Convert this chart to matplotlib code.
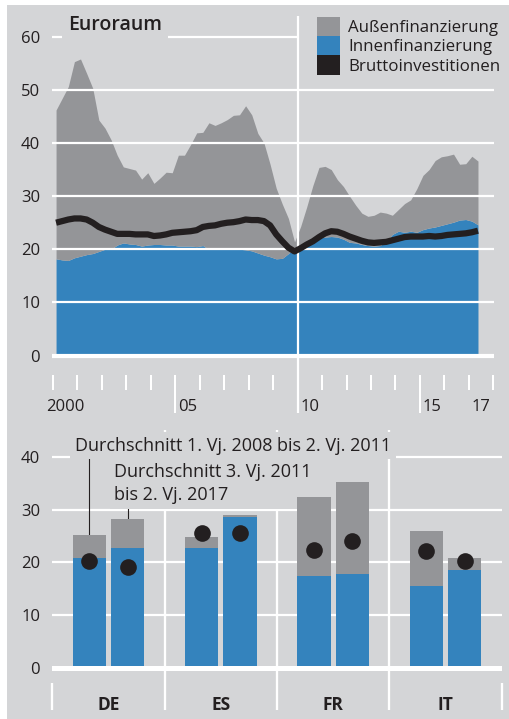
import matplotlib
matplotlib.use('Agg')
import matplotlib.pyplot as plt
from matplotlib.patches import Patch, Rectangle
import numpy as np

plt.rcParams['font.family'] = ['Open Sans', 'DejaVu Sans']

# ---------------- data ----------------
# Euroraum, quarterly 2000 Q1 - 2017 Q2 (% )
total = [46.2, 48.4, 50.6, 55.3, 55.8, 53.1, 50.3, 44.3, 42.8, 40.6,
         37.7, 35.5, 35.2, 34.9, 33.2, 34.4, 32.4, 33.4, 34.5, 34.4,
         37.7, 37.7, 39.7, 41.9, 42.0, 43.8, 43.3, 43.8, 44.4, 45.2,
         45.3, 47.0, 45.3, 41.8, 40.0, 36.0, 31.5, 28.5, 25.8, 21.4,
         24.3, 28.0, 32.0, 35.4, 35.6, 35.0, 33.1, 31.8, 30.0, 28.3,
         26.8, 26.2, 26.4, 27.0, 26.8, 26.4, 27.5, 28.6, 29.3, 31.4,
         33.9, 35.0, 36.7, 37.4, 37.6, 37.9, 36.0, 36.1, 37.5, 36.6]
innen = [18.2, 18.0, 17.9, 18.4, 18.7, 19.0, 19.2, 19.6, 20.0, 20.0,
         20.8, 21.2, 21.0, 20.9, 20.6, 20.8, 20.9, 20.9, 20.8, 20.8,
         20.6, 20.6, 20.6, 20.5, 20.7, 20.0, 20.0, 20.0, 20.0, 20.0,
         20.0, 19.9, 19.7, 19.3, 18.9, 18.6, 18.2, 18.3, 19.2, 20.3,
         20.7, 21.2, 21.7, 22.1, 22.3, 22.4, 22.3, 21.9, 21.3, 21.2,
         20.9, 20.7, 20.6, 20.7, 21.5, 22.8, 23.4, 23.2, 23.4, 23.2,
         23.7, 24.0, 24.2, 24.5, 24.8, 25.1, 25.5, 25.6, 25.3, 24.6]
brutto = [25.0, 25.3, 25.6, 25.8, 25.8, 25.6, 25.0, 24.2, 23.7, 23.3,
          22.9, 22.9, 22.9, 22.8, 22.8, 22.8, 22.5, 22.6, 22.8, 23.1,
          23.2, 23.3, 23.4, 23.6, 24.2, 24.4, 24.5, 24.8, 25.0, 25.1,
          25.3, 25.6, 25.5, 25.5, 25.3, 24.5, 22.8, 21.5, 20.3, 19.6,
          20.2, 20.9, 21.5, 22.3, 23.0, 23.4, 23.3, 22.9, 22.4, 22.0,
          21.6, 21.3, 21.2, 21.3, 21.4, 21.7, 22.0, 22.3, 22.4, 22.4,
          22.4, 22.5, 22.4, 22.5, 22.7, 22.8, 22.9, 23.0, 23.2, 23.5]
start_year = 2000
year_labels = ['2000', '05', '10', '15', '17']
year_label_pos = [2000, 2005, 2010, 2015, 2017]
legend_labels = ['Außenfinanzierung', 'Innenfinanzierung', 'Bruttoinvestitionen']

# Countries: period 1 = 1. Vj. 2008 bis 2. Vj. 2011, period 2 = 3. Vj. 2011 bis 2. Vj. 2017
countries = ['DE', 'ES', 'FR', 'IT']
innen_p1 = [20.8, 22.8, 17.5, 15.5]
total_p1 = [25.2, 24.9, 32.3, 26.0]
brutto_p1 = [20.2, 25.6, 22.4, 22.1]
innen_p2 = [22.8, 28.6, 17.9, 18.6]
total_p2 = [28.3, 28.9, 35.3, 20.9]
brutto_p2 = [19.1, 25.6, 24.0, 20.2]
label_p1 = 'Durchschnitt 1. Vj. 2008 bis 2. Vj. 2011'
label_p2 = 'Durchschnitt 3. Vj. 2011\nbis 2. Vj. 2017'

# ---------------- style ----------------
BG = '#d4d5d7'
GRAY = '#949598'
BLUE = '#3483bd'
BLACK = '#231f20'
TXT = '#231f20'
W = 510.0
H = 719.0

fig = plt.figure(figsize=(5.1, 7.19), dpi=100, facecolor='white')
fig.patches.append(Rectangle((7 / W, 0), 1 - 7 / W, 1 - 5 / H, transform=fig.transFigure,
                             facecolor=BG, edgecolor='none', zorder=-10))

# ---------------- top panel ----------------
ax = fig.add_axes([52 / W, 1 - 375 / H, 442 / W, (375 - 15.4) / H])
ax.set_facecolor('none')
x0, x1 = 1999.959, 2018.03
ax.set_xlim(x0, x1)
ax.set_ylim(-3.65, 64)
for s in ax.spines.values():
    s.set_visible(False)

xq = start_year + (np.arange(len(total)) + 0.5) / 4.0
ax.fill_between(xq, 0, innen, color=BLUE, lw=0, zorder=2)
ax.fill_between(xq, innen, total, color=GRAY, lw=0, zorder=2)
for v in [10, 20, 30, 40, 50]:
    ax.axhline(v, color='white', lw=1.6, zorder=3)
ax.axhline(0, color='white', lw=3.0, zorder=3)
ax.hlines(60, x0, 2010, color='white', lw=1.6, zorder=3)
ax.vlines(2010, -10.8, 63.8, color='white', lw=1.6, zorder=3.5, clip_on=False)
ax.plot(xq, brutto, color=BLACK, lw=4.5, zorder=4, solid_joinstyle='round',
        solid_capstyle='butt')

ax.set_yticks(range(0, 61, 10))
ax.tick_params(axis='y', length=0, pad=8.6, labelsize=12, labelcolor=TXT)
ax.set_xticks(range(2000, 2019))
ax.set_xticklabels([])
ax.tick_params(axis='x', which='major', length=10.8, width=1.44, color='white',
               direction='out')
ax.set_xticks([p + 0.5 for p in year_label_pos], minor=True)
ax.set_xticklabels(year_labels, minor=True)
ax.tick_params(axis='x', which='minor', length=0, pad=17.5, labelsize=12, labelcolor=TXT)
ax.vlines([2005, 2015], -10.8, -3.65, color='white', lw=1.44, clip_on=False)

ax.text(2000.613, 62.2, 'Euroraum', fontsize=14, fontweight='semibold', color=TXT,
        ha='left', va='center', zorder=5,
        bbox=dict(boxstyle='square,pad=0.3', fc=BG, ec='none'))

handles = [Patch(facecolor=GRAY, edgecolor='none'),
           Patch(facecolor=BLUE, edgecolor='none'),
           Patch(facecolor=BLACK, edgecolor='none')]
leg = ax.legend(handles, legend_labels, loc='upper left',
                bbox_to_anchor=(316.7 / W, 1 - 16.7 / H), bbox_transform=fig.transFigure,
                frameon=False, borderpad=0, borderaxespad=0, labelspacing=0,
                handlelength=1.36, handleheight=1.38, handletextpad=0.48, fontsize=12.2)
for t in leg.get_texts():
    t.set_color(TXT)

# ---------------- bottom panel ----------------
bx = fig.add_axes([52.3 / W, 1 - 683 / H, 449.4 / W, (683 - 430.25) / H])
bx.set_facecolor('none')
bx.set_xlim(-0.5, 3.5)
bx.set_ylim(-2.8, 45)
for s in bx.spines.values():
    s.set_visible(False)

g = np.arange(len(countries))
off = 0.17
bw = 0.298
ip1 = np.array(innen_p1); tp1 = np.array(total_p1)
ip2 = np.array(innen_p2); tp2 = np.array(total_p2)
bx.bar(g - off, ip1, bw, color=BLUE, zorder=2, lw=0)
bx.bar(g - off, tp1 - ip1, bw, bottom=ip1, color=GRAY, zorder=2, lw=0)
bx.bar(g + off, ip2, bw, color=BLUE, zorder=2, lw=0)
bx.bar(g + off, tp2 - ip2, bw, bottom=ip2, color=GRAY, zorder=2, lw=0)
bx.plot(g - off, brutto_p1, 'o', ms=12, color=BLACK, mec='none', zorder=4)
bx.plot(g + off, brutto_p2, 'o', ms=12, color=BLACK, mec='none', zorder=4)

for v in [10, 20, 30, 40]:
    bx.axhline(v, color='white', lw=1.6, zorder=1)
bx.axhline(0, color='white', lw=3.6, zorder=3)
bx.vlines([0.5, 1.5, 2.5], -2.8, 45, color='white', lw=1.65, zorder=1)

bx.set_yticks(range(0, 41, 10))
bx.tick_params(axis='y', length=0, pad=8.8, labelsize=12, labelcolor=TXT)
bx.set_xticks(g)
bx.set_xticklabels(countries, fontweight='bold')
bx.tick_params(axis='x', which='major', length=0, pad=9.5, labelsize=12.5, labelcolor=TXT)
bx.set_xticks([-0.5, 0.5, 1.5, 2.5, 3.5], minor=True)
bx.tick_params(axis='x', which='minor', length=19.4, width=1.65, color='white',
               direction='out')

bx.vlines(g[0] - off, tp1[0], 40.0, color=BLACK, lw=0.8, zorder=1.2)
bx.vlines(g[0] + off, tp2[0], 32.0, color=BLACK, lw=0.8, zorder=1.2)
bx.text(-0.298, 41.1, label_p1, fontsize=13, color=TXT, ha='left', va='baseline',
        zorder=1.5, clip_on=False,
        bbox=dict(boxstyle='square,pad=0.25', fc=BG, ec='none'))
bx.text(0.0519, 31.8, label_p2, fontsize=13, color=TXT, ha='left', va='baseline',
        linespacing=1.38, zorder=1.5, clip_on=False,
        bbox=dict(boxstyle='square,pad=0.25', fc=BG, ec='none'))

fig.savefig('out.png', dpi=100, facecolor='white')
